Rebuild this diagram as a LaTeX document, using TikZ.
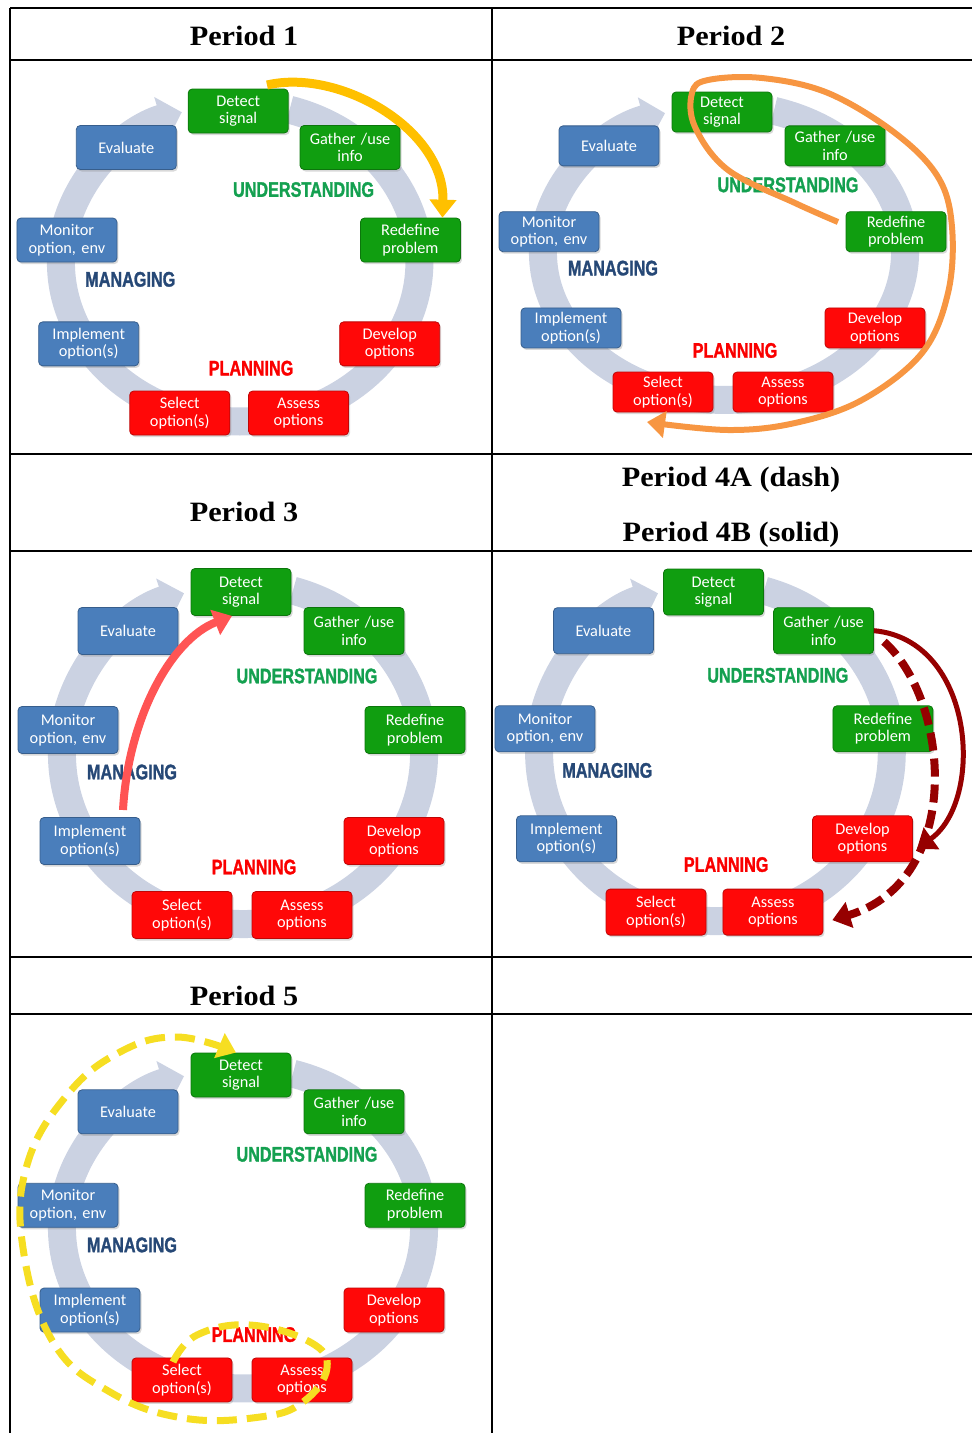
\documentclass[tikz,border=0pt]{standalone}
\usepackage{fontspec}
\setmainfont{Liberation Serif}
\newfontfamily\headfont[FakeStretch=1.08]{Liberation Serif}
\newfontfamily\boxfont{Carlito}
\newfontfamily\phasefont[FakeBold=1.6]{Liberation Sans}
\usepackage{tikz}
\usetikzlibrary{positioning}
\usetikzlibrary{calc, arrows.meta, shadows}

\definecolor{ringblue}{RGB}{203,210,226}
\definecolor{stepgreen}{RGB}{16,158,16}
\definecolor{stepred}{RGB}{255,8,8}
\definecolor{stepblue}{RGB}{74,126,187}
\definecolor{undgreen}{RGB}{20,160,80}
\definecolor{mangblue}{RGB}{38,72,118}
\definecolor{planred}{RGB}{250,0,0}
\definecolor{ambergold}{RGB}{255,192,0}
\definecolor{looporange}{RGB}{247,150,66}
\definecolor{salmonred}{RGB}{255,84,84}
\definecolor{darkmaroon}{RGB}{150,0,0}
\definecolor{dashyellow}{RGB}{246,222,34}

% one cycle: #1 = name prefix, #2 = box height
\newcommand{\cyclepanel}[2]{
  \draw[ring] (233,203) ++(-74:181 and 170) arc[start angle=-74, end angle=251, x radius=181, y radius=170];
  \foreach \nm/\px/\py/\col/\txt in {
      detect/231/41/stepgreen/{Detect\\signal},
      gather/344/80/stepgreen/{Gather /use\\info},
      redefine/405/179/stepgreen/{Redefine\\problem},
      develop/384/290/stepred/{Develop\\options},
      assess/292/364/stepred/{Assess\\options},
      select/172/364/stepred/{Select\\option(s)},
      implement/80/290/stepblue/{Implement\\option(s)},
      monitor/58/179/stepblue/{Monitor\\option, env},
      evaluate/118/80/stepblue/{Evaluate}}
    \node[stepbox, fill=\col, draw=\col!75!black, minimum height=#2pt] (#1-\nm) at (\px,\py) {\txt};
  \node[phase, text=undgreen] (#1-und) at (297,125) {\scalebox{1}[1.3]{UNDERSTANDING}};
  \node[phase, text=mangblue] (#1-man) at (122,221) {\scalebox{1}[1.3]{MANAGING}};
  \node[phase, text=planred] (#1-plan) at (244,316) {\scalebox{1}[1.3]{PLANNING}};
}

\begin{document}
\begin{tikzpicture}[x=1pt, y=-1pt,
    ring/.style={draw=ringblue, line width=28pt, -{Triangle[width=44pt, length=22pt]}},
    stepbox/.style={rounded corners=4pt, line width=0.8pt, minimum width=100pt, text width=98pt,
      align=center, inner sep=0pt, text=white, font=\boxfont\fontsize{16.3}{17.5}\selectfont,
      drop shadow={opacity=.3, shadow xshift=1.5pt, shadow yshift=-2pt}},
    phase/.style={font=\phasefont\bfseries\fontsize{16.2}{18}\selectfont, inner sep=0pt},
    head/.style={font=\headfont\bfseries\fontsize{28}{30}\selectfont, anchor=base},
    rule/.style={line width=2.2pt},
    sweep/.style={-{Triangle[width=26pt, length=18pt]}}]
  \useasboundingbox (0,0) rectangle (972,1433);

  % table
  \foreach \yy in {8,60,454,551,957,1014}
    \draw[rule] (10,\yy) -- (972,\yy);
  \draw[rule] (10,8) -- (10,1433);
  \draw[rule] (492,8) -- (492,1433);

  \node[head] (h1) at (244,45) {Period 1};
  \node[head] (h2) at (731,45) {Period 2};
  \node[head] (h3) at (244,521) {Period 3};
  \node[head] (h4a) at (731,486) {Period 4A (dash)};
  \node[head] (h4b) at (731,541) {Period 4B (solid)};
  \node[head] (h5) at (244,1005) {Period 5};

  % the five cycles
  \begin{scope}[shift={(9.5,72.7)}, xscale=.99, yscale=.935]
    \cyclepanel{p1}{44}
  \end{scope}
  \begin{scope}[shift={(491,76.5)}, yscale=.867]
    \cyclepanel{p2}{40}
  \end{scope}
  \begin{scope}[shift={(10,551)}]
    \cyclepanel{p3}{47}
  \end{scope}
  \begin{scope}[shift={(488.5,551.4)}, xscale=.974, yscale=.991]
    \cyclepanel{p4}{46}
  \end{scope}
  \begin{scope}[shift={(10,1036.3)}, yscale=.944]
    \cyclepanel{p5}{44}
  \end{scope}

  % period 1
  \coordinate (p1-tail) at (267,85);
  \draw[sweep, ambergold, line width=9pt] (p1-tail) .. controls (340,68) and (445,130) .. (p1-redefine.35);

  % period 2
  \coordinate (p2-tail) at (838,222);
  \coordinate (p2-tip) at (647,422);
  \draw[sweep, looporange, line width=6pt] plot[smooth, tension=.6] coordinates {(p2-tail) (795,203) (728,170) (695,127) (692,93) (708,80) (762,78) (828,93) (895,133) (938,177) (952,227) (948,293) (922,353) (862,400) (795,423) (728,430) (p2-tip)};

  % period 3
  \coordinate (p3-tail) at (123,810);
  \draw[sweep, salmonred, line width=8pt] (p3-tail) .. controls (128,720) and (170,640) .. ([xshift=-9pt]p3-detect.south);

  % period 4
  \draw[sweep, darkmaroon, line width=5pt] (p4-gather.east) .. controls (975,640) and (985,800) .. ([xshift=4pt, yshift=-10pt]p4-develop.east);
  \draw[sweep, darkmaroon, line width=8pt, dash pattern=on 18pt off 8pt] ([xshift=10pt, yshift=-11pt]p4-gather.east) .. controls (950,700) and (965,880) .. ([xshift=9pt, yshift=-8pt]p4-assess.east);

  % period 5
  \coordinate (p5-tail) at (173,1362);
  \draw[sweep, dashyellow, line width=7pt, dash pattern=on 20pt off 10pt] plot[smooth, tension=.7] coordinates {(p5-tail) (197,1335) (250,1325) (310,1342) (327,1368) (303,1402) (260,1417) (183,1418) (110,1392) (53,1342) (23,1248) (27,1165) (67,1095) (120,1052) (177,1037) ([xshift=-5pt]p5-detect.north)};
\end{tikzpicture}
\end{document}
